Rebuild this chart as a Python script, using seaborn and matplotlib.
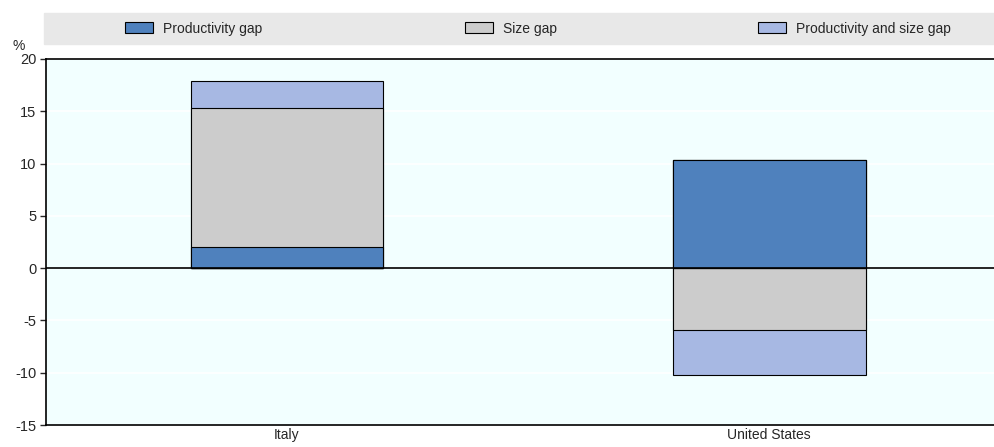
import pandas as pd
import matplotlib.pyplot as plt
import seaborn as sns
import numpy as np
from matplotlib.patches import Rectangle, Patch

# Values (%)
countries = ["Italy", "United States"]
components = ["Productivity gap", "Size gap", "Productivity and size gap"]
productivity_gap = [2.0, 10.3]
size_gap = [13.3, -5.9]
prod_size_gap = [2.55, -4.3]
colors = ["#4F81BD", "#CCCCCC", "#A7B8E3"]

df = pd.DataFrame({
    "country": np.repeat(countries, 3),
    "component": components * 2,
    "value": [productivity_gap[0], size_gap[0], prod_size_gap[0],
              productivity_gap[1], size_gap[1], prod_size_gap[1]],
})
df["component"] = pd.Categorical(df["component"], components, ordered=True)
df = df.sort_values(["country", "component"])
df["pos"] = df["value"].clip(lower=0).groupby(df["country"]).cumsum()
df["neg"] = df["value"].clip(upper=0).groupby(df["country"]).cumsum()

sns.set_style("white")
plt.rcParams["font.family"] = ["Liberation Sans", "DejaVu Sans"]
plt.rcParams["axes.unicode_minus"] = False

fig = plt.figure(figsize=(9.95, 4.47), dpi=100)
ax = fig.add_axes([0.0462, 0.0492, 0.969, 0.819])
ax.set_facecolor("#F2FFFF")

# stacked bars: draw cumulative totals from the top layer down
for comp, col in reversed(list(zip(components, colors))):
    sub = df[df["component"] == comp]
    for key in ["pos", "neg"]:
        sns.barplot(data=sub, x="country", y=key, order=countries, color=col,
                    width=0.4, edgecolor="black", linewidth=0.8, saturation=1,
                    ax=ax, zorder=3)

ax.axhline(0, color="black", linewidth=1.2, zorder=4)
ax.set_ylim(-15, 20)
ax.set_xlim(-0.5, 1.5)
ax.set_yticks(range(-15, 21, 5))
ax.yaxis.grid(True, color="white", linewidth=1.2, zorder=0)
ax.set_axisbelow(True)
ax.set_xlabel("")
ax.set_ylabel("")
ax.tick_params(axis="y", length=4, width=1, direction="out", left=True,
               labelsize=10.5, pad=3)
ax.tick_params(axis="x", length=0, labelsize=10, pad=2)
for s in ["left", "bottom", "top"]:
    ax.spines[s].set_color("black")
    ax.spines[s].set_linewidth(1.2)
ax.spines["right"].set_visible(False)
ax.text(-0.028, 1.015, "%", transform=ax.transAxes, fontsize=10,
        ha="center", va="bottom")

# legend band
fig.patches.append(Rectangle((0.044, 0.9016), 0.956, 0.069,
                             transform=fig.transFigure, color="#E8E8E8",
                             zorder=0))
legend_x = [125, 465, 758]
for comp, col, lx in zip(components, colors, legend_x):
    fig.legend(handles=[Patch(facecolor=col, edgecolor="black", linewidth=0.8)],
               labels=[comp], loc="center left",
               bbox_to_anchor=(lx / 995, 0.936),
               frameon=False, fontsize=10, handlelength=2.0, handleheight=0.85,
               handletextpad=0.72, borderpad=0, borderaxespad=0)

fig.savefig("out.png", dpi=100)
